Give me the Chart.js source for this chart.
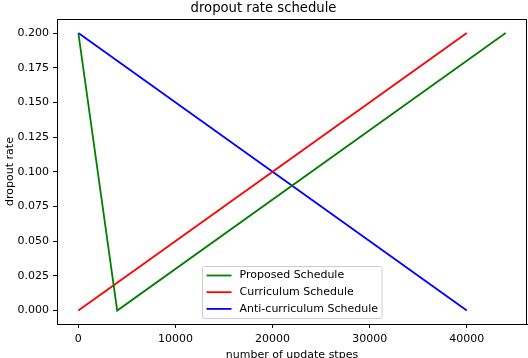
<!DOCTYPE html>
<html>
<head>
<meta charset="utf-8">
<script src="https://cdn.jsdelivr.net/npm/chart.js@4/dist/chart.umd.min.js"></script>
<style>
  html, body { margin: 0; padding: 0; background: #fff; }
  #wrap { width: 528px; height: 358px; }
</style>
</head>
<body>
<div id="wrap"><canvas id="chart"></canvas></div>
<script>
  // values
  const proposedX = [0, 4000, 44000];
  const proposedY = [0.2, 0, 0.2];
  const curriculumX = [0, 40000];
  const curriculumY = [0, 0.2];
  const antiX = [0, 40000];
  const antiY = [0.2, 0];

  const xTicks = [0, 10000, 20000, 30000, 40000];
  const yTicks = [0, 0.025, 0.05, 0.075, 0.1, 0.125, 0.15, 0.175, 0.2];

  const FONT = "'DejaVu Sans', sans-serif";

  function pts(xs, ys) {
    return xs.map((x, i) => ({ x: x, y: ys[i] }));
  }

  // box around the whole plot area, like matplotlib
  const frame = {
    id: "frame",
    afterDraw(chart) {
      const a = chart.chartArea, c = chart.ctx;
      c.save();
      c.strokeStyle = "#000";
      c.lineWidth = 1;
      c.strokeRect(Math.round(a.left) + 0.5, Math.round(a.top) + 0.5,
        Math.round(a.right - a.left) - 1, Math.round(a.bottom - a.top));
      c.restore();
    }
  };

  // legend drawn inside the plot, lower center
  const innerLegend = {
    id: "innerLegend",
    afterDraw(chart) {
      const a = chart.chartArea, c = chart.ctx;
      const sets = chart.data.datasets;
      c.save();
      c.font = "11px " + FONT;
      let maxW = 0;
      sets.forEach(d => { maxW = Math.max(maxW, c.measureText(d.label).width); });
      const pad = 4, lineLen = 25, gap = 8, rowH = 16.7;
      const w = pad + lineLen + gap + maxW + pad;
      const h = rowH * sets.length + 2;
      const cx = (a.left + a.right) / 2;
      const x0 = Math.round(cx - w / 2) + 0.5;
      const y0 = Math.round(a.bottom - 6 - h) + 0.5;
      c.fillStyle = "rgba(255,255,255,0.8)";
      c.strokeStyle = "#cccccc";
      c.lineWidth = 1;
      c.beginPath();
      c.roundRect(x0, y0, w, h, 2);
      c.fill();
      c.stroke();
      sets.forEach((d, i) => {
        const y = y0 + 9 + i * rowH;
        c.strokeStyle = d.borderColor;
        c.lineWidth = 1.8;
        c.beginPath();
        c.moveTo(x0 + pad, y);
        c.lineTo(x0 + pad + lineLen, y);
        c.stroke();
        c.fillStyle = "#000";
        c.textBaseline = "middle";
        c.fillText(d.label, x0 + pad + lineLen + gap, y);
      });
      c.restore();
    }
  };

  new Chart(document.getElementById("chart"), {
    type: "line",
    data: {
      datasets: [
        { label: "Proposed Schedule", data: pts(proposedX, proposedY), borderColor: "#008000" },
        { label: "Curriculum Schedule", data: pts(curriculumX, curriculumY), borderColor: "#ff0000" },
        { label: "Anti-curriculum Schedule", data: pts(antiX, antiY), borderColor: "#0000ff" }
      ]
    },
    options: {
      responsive: true,
      maintainAspectRatio: false,
      animation: false,
      layout: { padding: { left: 0, right: 1, top: 0, bottom: 0 } },
      elements: {
        line: { borderWidth: 1.8, tension: 0, fill: false },
        point: { radius: 0, hoverRadius: 0 }
      },
      plugins: {
        legend: { display: false },
        tooltip: { enabled: false },
        title: {
          display: true,
          text: "dropout rate schedule",
          color: "#000",
          font: { family: FONT, size: 13.2, weight: "normal" },
          padding: { top: 1, bottom: 2.2 }
        }
      },
      scales: {
        x: {
          type: "linear",
          min: -2200,
          max: 46200,
          afterBuildTicks: s => { s.ticks = xTicks.map(v => ({ value: v })); },
          afterFit: s => { s.height = 34; },
          ticks: {
            color: "#000",
            font: { family: FONT, size: 11 },
            padding: 4.5,
            maxRotation: 0,
            callback: v => String(v)
          },
          grid: { drawOnChartArea: false, color: "#000", tickLength: 4 },
          border: { display: true, color: "#000" },
          title: {
            display: true,
            text: "number of update stpes",
            color: "#000",
            font: { family: FONT, size: 11 },
            padding: { top: 0, bottom: -4 }
          }
        },
        y: {
          type: "linear",
          min: -0.0097,
          max: 0.2101,
          afterBuildTicks: s => { s.ticks = yTicks.map(v => ({ value: v })); },
          afterFit: s => { s.width = 57; },
          ticks: {
            color: "#000",
            font: { family: FONT, size: 11 },
            padding: 4,
            callback: v => v.toFixed(3)
          },
          grid: { drawOnChartArea: false, color: "#000", tickLength: 4 },
          border: { display: true, color: "#000" },
          title: {
            display: true,
            text: "dropout rate",
            color: "#000",
            font: { family: FONT, size: 11 },
            padding: { top: 4, bottom: 0 }
          }
        }
      }
    },
    plugins: [frame, innerLegend]
  });
</script>
</body>
</html>
